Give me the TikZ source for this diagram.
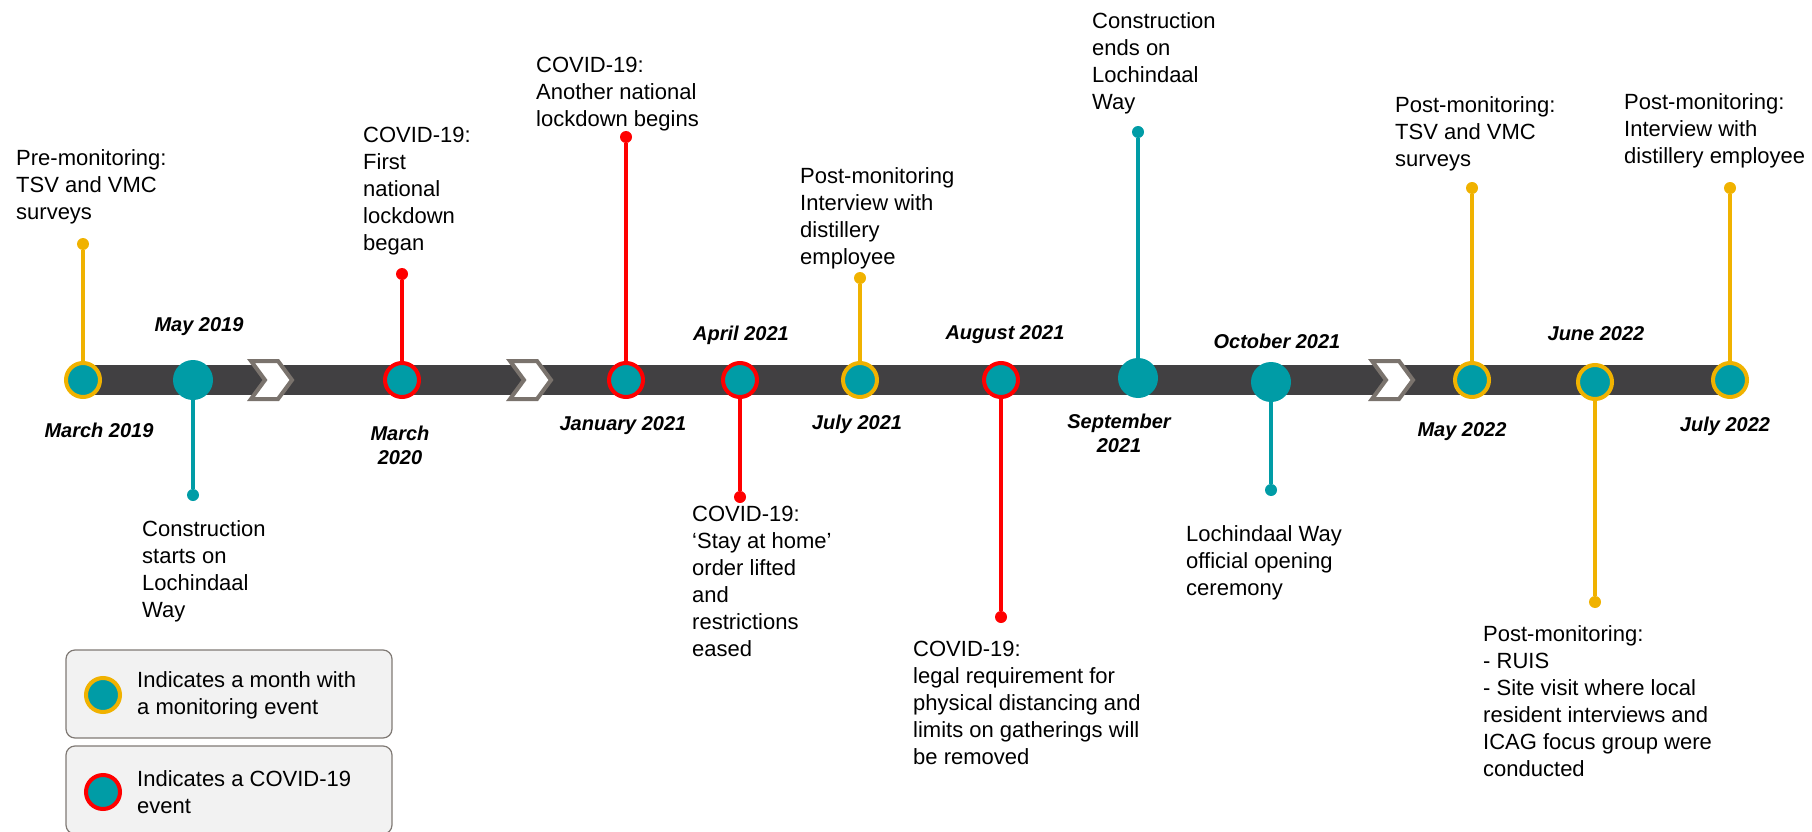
\documentclass[tikz,border=0pt]{standalone}
\usepackage{fontspec}
\setmainfont{Liberation Sans}
\definecolor{teal}{RGB}{0,156,166}
\definecolor{myyellow}{RGB}{240,178,0}
\definecolor{myred}{RGB}{255,0,0}
\definecolor{bar}{RGB}{65,64,66}
\definecolor{chevgray}{RGB}{122,115,109}
\definecolor{legfill}{RGB}{242,242,242}
\definecolor{legdraw}{RGB}{128,122,117}
\begin{document}
\begin{tikzpicture}[x=1pt,y=-1pt,
 evt/.style={anchor=north west, inner sep=0pt, align=left, font=\fontsize{22}{27}\selectfont},
 datelbl/.style={inner sep=0pt, align=center, font=\fontsize{20}{24}\selectfont\bfseries\itshape},
 ring/.style={circle, fill=teal, draw=#1, line width=4pt, minimum size=34pt, inner sep=0pt},
 plain/.style={circle, fill=teal, minimum size=40pt, inner sep=0pt},
 dot/.style={circle, fill=#1, minimum size=12pt, inner sep=0pt},
 stem/.style={draw=#1, line width=3.5pt},
 chev/.style={fill=white, draw=chevgray, line width=4pt, line join=miter},
 chevron/.pic={\path[chev] (-20,-19) -- (7,-19) -- (21,0) -- (7,19) -- (-20,19) -- (-6,0) -- cycle;},
 legbox/.style={rounded corners=9pt, fill=legfill, draw=legdraw, line width=1.2pt, minimum width=326pt, minimum height=88pt},
 legtxt/.style={anchor=west, inner sep=0pt, align=left, font=\fontsize{22}{27}\selectfont}
]
\clip (0,0) rectangle (1812,832);
% bar
\fill[bar] (83,365) rectangle (1730,395);
\pic at (271,380) {chevron};
\pic at (530,380) {chevron};
\pic at (1392,380) {chevron};

% event circles
\node[ring=myyellow] (c1) at (83,380) {};
\node[plain] (c2) at (193,380) {};
\node[ring=myred] (c3) at (402,380) {};
\node[ring=myred] (c4) at (626,380) {};
\node[ring=myred] (c5) at (740,380) {};
\node[ring=myyellow] (c6) at (860,380) {};
\node[ring=myred] (c7) at (1001,380) {};
\node[plain] (c8) at (1138,378) {};
\node[plain] (c9) at (1271,382) {};
\node[ring=myyellow] (c10) at (1472,380) {};
\node[ring=myyellow] (c11) at (1595,382) {};
\node[ring=myyellow] (c12) at (1730,380) {};

% stem dots
\node[dot=myyellow] (d1) at (83,244) {};
\node[dot=teal] (d2) at (193,495) {};
\node[dot=myred] (d3) at (402,274) {};
\node[dot=myred] (d4) at (626,137) {};
\node[dot=myred] (d5) at (740,497) {};
\node[dot=myyellow] (d6) at (860,278) {};
\node[dot=myred] (d7) at (1001,617) {};
\node[dot=teal] (d8) at (1138,132) {};
\node[dot=teal] (d9) at (1271,490) {};
\node[dot=myyellow] (d10) at (1472,188) {};
\node[dot=myyellow] (d11) at (1595,602) {};
\node[dot=myyellow] (d12) at (1730,188) {};

% stems
\draw[stem=myyellow] (c1) -- (d1);
\draw[stem=teal] (c2) -- (d2);
\draw[stem=myred] (c3) -- (d3);
\draw[stem=myred] (c4) -- (d4);
\draw[stem=myred] (c5) -- (d5);
\draw[stem=myyellow] (c6) -- (d6);
\draw[stem=myred] (c7) -- (d7);
\draw[stem=teal] (c8) -- (d8);
\draw[stem=teal] (c9) -- (d9);
\draw[stem=myyellow] (c10) -- (d10);
\draw[stem=myyellow] (c11) -- (d11);
\draw[stem=myyellow] (c12) -- (d12);

% date labels
\node[datelbl] (l1) at (99,430) {March 2019};
\node[datelbl] (l2) at (199,327) {May 2019};
\node[datelbl] (l3) at (400,445) {March\\2020};
\node[datelbl] (l4) at (623,426) {January 2021};
\node[datelbl] (l5) at (741,335) {April 2021};
\node[datelbl] (l6) at (857,424) {July 2021};
\node[datelbl] (l7) at (1005,335) {August 2021};
\node[datelbl] (l8) at (1119,433) {September\\2021};
\node[datelbl] (l9) at (1277,341) {October 2021};
\node[datelbl] (l10) at (1462,432) {May 2022};
\node[datelbl] (l11) at (1596,334) {June 2022};
\node[datelbl] (l12) at (1725,426) {July 2022};

% event texts
\node[evt] (t1) at (16,149) {Pre-monitoring:\\TSV and VMC\\surveys};
\node[evt] (t2) at (142,520) {Construction\\starts on\\Lochindaal\\Way};
\node[evt] (t3) at (363,127) {COVID-19:\\First\\national\\lockdown\\began};
\node[evt] (t4) at (536,57) {COVID-19:\\Another national\\lockdown begins};
\node[evt] (t5) at (692,506) {COVID-19:\\‘Stay at home’\\order lifted\\and\\restrictions\\eased};
\node[evt] (t6) at (800,167) {Post-monitoring\\Interview with\\distillery\\employee};
\node[evt] (t7) at (913,641) {COVID-19:\\legal requirement for\\physical distancing and\\limits on gatherings will\\be removed};
\node[evt] (t8) at (1092,12) {Construction\\ends on\\Lochindaal\\Way};
\node[evt] (t9) at (1186,525) {Lochindaal Way\\official opening\\ceremony};
\node[evt] (t10) at (1395,96) {Post-monitoring:\\TSV and VMC\\surveys};
\node[evt] (t11) at (1483,625) {Post-monitoring:\\- RUIS\\- Site visit where local\\resident interviews and\\ICAG focus group were\\conducted};
\node[evt] (t12) at (1624,93) {Post-monitoring:\\Interview with\\distillery employee};

% legend
\node[legbox] (b1) at (229,694) {};
\node[legbox] (b2) at (229,790) {};
\node[ring=myyellow] (lc1) at (103,695) {};
\node[ring=myred] (lc2) at (103,792) {};
\node[legtxt] (lt1) at (137,695) {Indicates a month with\\a monitoring event};
\node[legtxt] (lt2) at (137,792) {Indicates a COVID-19\\event};
\end{tikzpicture}
\end{document}
